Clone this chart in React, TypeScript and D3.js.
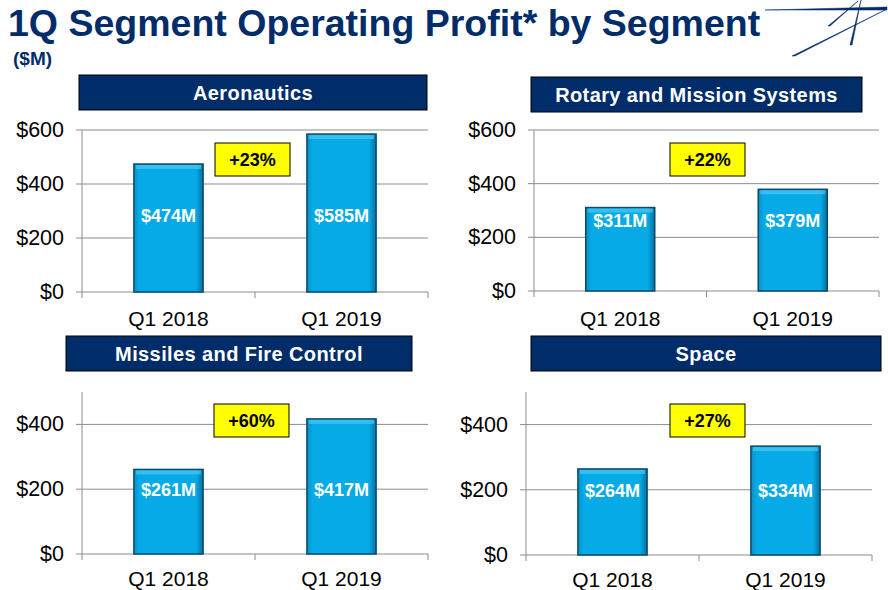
import React from "react"
import * as d3 from "d3"

const quarters = ["Q1 2018", "Q1 2019"]
const segments = ["Aeronautics", "Rotary and Mission Systems", "Missiles and Fire Control", "Space"]
const profits = [
  [474, 585],
  [311, 379],
  [261, 417],
  [264, 334],
]
const growth = ["+23%", "+22%", "+60%", "+27%"]
const yMax = [600, 600, 500, 500]
const yTicks = [
  [0, 200, 400, 600],
  [0, 200, 400, 600],
  [0, 200, 400],
  [0, 200, 400],
]
// value level at which the in-bar label sits
const labelLevel = [285, 265, 200, 200]

const layout = [
  { hx: 79, hy: 75, hw: 348, x0: 82, x1: 428, top: 130, bottom: 292, bx: 215, by: 143, qy: 34 },
  { hx: 531, hy: 77, hw: 331, x0: 534, x1: 879, top: 130, bottom: 291, bx: 670, by: 143, qy: 35 },
  { hx: 66, hy: 336, hw: 346, x0: 82, x1: 428, top: 392, bottom: 554, bx: 214, by: 404, qy: 32 },
  { hx: 531, hy: 336, hw: 350, x0: 526, x1: 872, top: 392, bottom: 555, bx: 670, by: 404, qy: 32 },
]

const navy = "#002d6a"
const font = "Arial, 'Liberation Sans', sans-serif"

function Panel({ i }: { i: number }) {
  const l = layout[i]
  const x = d3.scaleBand().domain(quarters).range([l.x0, l.x1]).paddingInner(0.6).paddingOuter(0.3)
  const y = d3.scaleLinear().domain([0, yMax[i]]).range([l.bottom, l.top])
  return (
    <g fontFamily={font}>
      <rect x={l.hx} y={l.hy} width={l.hw} height={35} fill={navy} stroke="#000" strokeWidth={1} />
      <text x={l.hx + l.hw / 2} y={l.hy + 25} textAnchor="middle" fill="#fff" fontWeight="bold" fontSize={20} letterSpacing={0.4}>
        {segments[i]}
      </text>
      {yTicks[i].map((t) => (
        <g key={t}>
          <line x1={l.x0 - 6} x2={l.x1} y1={y(t)} y2={y(t)} stroke="#8c8c8c" strokeWidth={1} />
          <text x={l.x0 - 18} y={y(t) + 7} textAnchor="end" fontSize={21.5} fill="#000">
            ${t}
          </text>
        </g>
      ))}
      <line x1={l.x0} x2={l.x0} y1={l.top} y2={l.bottom + 6} stroke="#8c8c8c" />
      {[(l.x0 + l.x1) / 2, l.x1].map((tx) => (
        <line key={tx} x1={tx} x2={tx} y1={l.bottom} y2={l.bottom + 6} stroke="#8c8c8c" />
      ))}
      {quarters.map((q, j) => {
        const v = profits[i][j]
        const bx = x(q)!
        const bw = x.bandwidth()
        return (
          <g key={q}>
            <rect x={bx} y={y(v)} width={bw} height={l.bottom - y(v)} fill="url(#barGrad)" stroke="#0a4a6e" strokeWidth={1.5} />
            <rect x={bx + 2} y={y(v) + 1} width={bw - 4} height={4} fill="#4cc8f2" opacity={0.7} />
            <text x={bx + bw / 2} y={y(labelLevel[i]) + 7} textAnchor="middle" fill="#fff" fontWeight="bold" fontSize={18}>
              ${v}M
            </text>
            <text x={bx + bw / 2} y={l.bottom + l.qy} textAnchor="middle" fontSize={21} fill="#000">
              {q}
            </text>
          </g>
        )
      })}
      <rect x={l.bx} y={l.by} width={75} height={33} fill="#ffff00" stroke="#000" strokeWidth={1} />
      <text x={l.bx + 37.5} y={l.by + 23} textAnchor="middle" fontWeight="bold" fontSize={18} fill="#000">
        {growth[i]}
      </text>
    </g>
  )
}

export default function App() {
  return (
    <svg width={888} height={590} style={{ position: "absolute", left: 0, top: 0, background: "#fff" }}>
      <defs>
        <linearGradient id="barGrad" x1="0" x2="1" y1="0" y2="0">
          <stop offset="0" stopColor="#0b8fc4" />
          <stop offset="0.08" stopColor="#05aae6" />
          <stop offset="0.9" stopColor="#05aae6" />
          <stop offset="1" stopColor="#0a6f9c" />
        </linearGradient>
      </defs>
      <rect width={888} height={590} fill="#fff" />
      <text x={8} y={36} fontFamily={font} fontWeight="bold" fontSize={37.5} fill={navy}>
        1Q Segment Operating Profit* by Segment
      </text>
      <text x={13} y={65} fontFamily={font} fontWeight="bold" fontSize={19} fill={navy}>
        ($M)
      </text>
      <g stroke={navy} fill={navy} strokeWidth={0.5}>
        <path d="M 765 10 L 887 7 L 887 10 Z" />
        <path d="M 858 1 L 828 26 L 830 26 Z" />
        <path d="M 861 0 L 850 45 L 852 45 Z" />
        <path d="M 887 9 L 792 56 L 795 56 Z" />
      </g>
      {segments.map((_, i) => (
        <Panel key={i} i={i} />
      ))}
    </svg>
  )
}
